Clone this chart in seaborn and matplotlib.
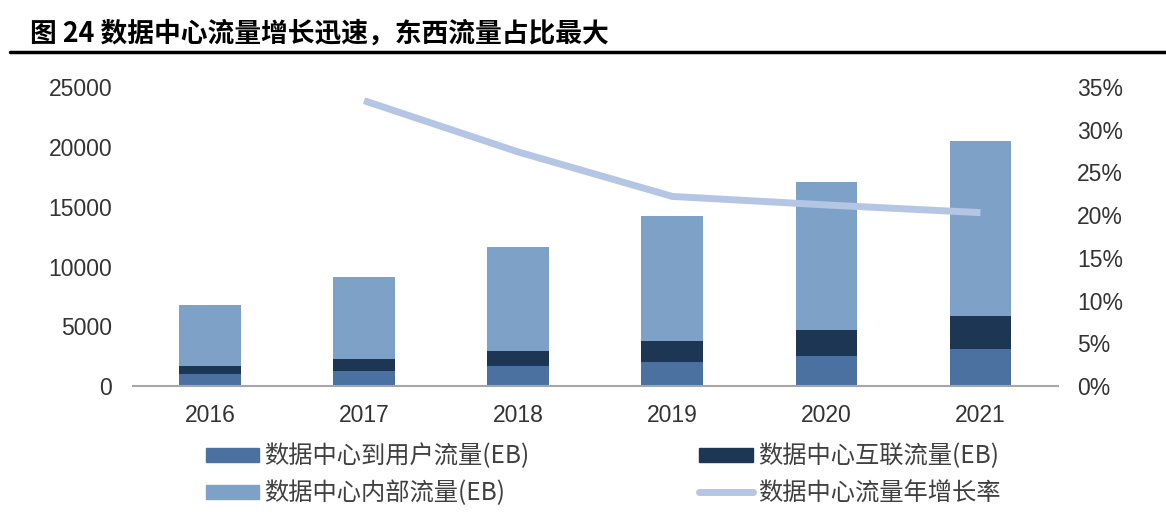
import matplotlib
matplotlib.use("Agg")
import matplotlib.pyplot as plt
import seaborn as sns
import numpy as np
import pandas as pd
from matplotlib.patches import Patch
from matplotlib.lines import Line2D
from matplotlib.ticker import FuncFormatter

years = ["2016", "2017", "2018", "2019", "2020", "2021"]
user_traffic = [1000, 1250, 1670, 2010, 2510, 3090]
interconnect_traffic = [670, 1010, 1260, 1750, 2170, 2760]
internal_traffic = [5130, 6840, 8670, 10440, 12420, 14650]
growth_years = ["2017", "2018", "2019", "2020", "2021"]
growth_rate = [0.334, 0.274, 0.222, 0.212, 0.203]

title = "图 24 数据中心流量增长迅速，东西流量占比最大"
labels = ["数据中心到用户流量(EB)", "数据中心互联流量(EB)", "数据中心内部流量(EB)", "数据中心流量年增长率"]

c_user = "#4A71A0"
c_inter = "#1D3654"
c_internal = "#7EA1C8"
c_line = "#B4C6E4"

sns.set_theme(style="white")
plt.rcParams['font.family'] = ['Liberation Sans', 'Noto Sans CJK SC', 'DejaVu Sans']

df = pd.DataFrame({"year": years, "user": user_traffic, "inter": interconnect_traffic, "internal": internal_traffic})
df["lvl2"] = df["user"] + df["inter"]
df["total"] = df["lvl2"] + df["internal"]

fig = plt.figure(figsize=(11.66, 5.24), dpi=100)
ax = fig.add_axes([0.114, 0.263, 0.793, 0.571])

for col, c in [("total", c_internal), ("lvl2", c_inter), ("user", c_user)]:
    sns.barplot(data=df, x="year", y=col, color=c, width=0.4, ax=ax, saturation=1,
                linewidth=0, edgecolor="none")

ax.set_ylim(0, 25000)
ax.set_xlim(-0.5, 5.5)
ax.set_yticks(np.arange(0, 25001, 5000))
ax.set_xlabel("")
ax.set_ylabel("")
for s in ["top", "right", "left"]:
    ax.spines[s].set_visible(False)
ax.spines["bottom"].set_color("#A6A6A6")
ax.spines["bottom"].set_linewidth(1.5)
ax.tick_params(axis="y", length=0, labelsize=16.5, labelcolor="#333333", pad=15)
ax.tick_params(axis="x", length=0, labelsize=16.5, labelcolor="#333333", pad=13)
ax.set_xticks(np.arange(0.5, 5.5, 1.0), minor=True)
ax.tick_params(axis="x", which="minor", direction="in", length=5, width=1.2, color="#A6A6A6")

ax2 = ax.twinx()
gx = [years.index(y) for y in growth_years]
sns.lineplot(x=gx, y=growth_rate, ax=ax2, color=c_line, linewidth=5, solid_capstyle="butt", solid_joinstyle="round")
ax2.set_ylim(0, 0.35)
ax2.set_yticks(np.arange(0, 0.351, 0.05))
ax2.yaxis.set_major_formatter(FuncFormatter(lambda v, p: f"{v*100:.0f}%"))
for s in ["top", "right", "left", "bottom"]:
    ax2.spines[s].set_visible(False)
ax2.tick_params(axis="y", length=0, labelsize=16.5, labelcolor="#333333", pad=14)
ax2.set_xlim(-0.5, 5.5)

fig.text(0.026, 0.935, title, fontsize=19.3, fontweight="bold", color="black",
         family=['Noto Sans CJK SC', 'DejaVu Sans'], va="center")
fig.add_artist(Line2D([0.009, 1.0], [0.90, 0.90], color="black", linewidth=2.5, transform=fig.transFigure))

handles = [Patch(color=c_user), Patch(color=c_internal), Patch(color=c_inter),
           Line2D([0], [0], color=c_line, linewidth=5, solid_capstyle="round")]
hlabels = [labels[0], labels[2], labels[1], labels[3]]
leg = fig.legend(handles, hlabels, ncol=2, loc="center", bbox_to_anchor=(0.517, 0.094),
                 frameon=False, columnspacing=7.0, handlelength=2.2,
                 handleheight=0.5, handletextpad=0.2, labelspacing=0.45,
                 prop={"family": ['Noto Sans CJK SC', 'DejaVu Sans'], "size": 17.5})
for t in leg.get_texts():
    t.set_color("#404040")

fig.savefig("out.png", dpi=100)
